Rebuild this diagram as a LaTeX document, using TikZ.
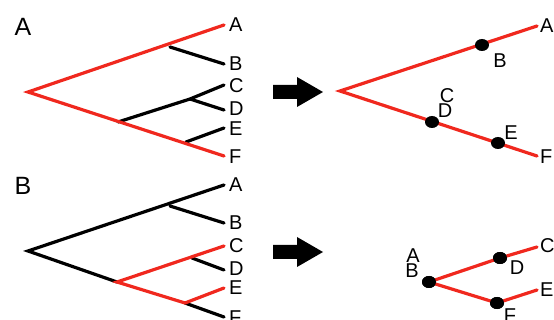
\documentclass[tikz,border=0pt]{standalone}
\usepackage{fontspec}
\setmainfont{Liberation Sans}
\definecolor{branchred}{RGB}{240,40,30}
\tikzset{
  br/.style={line width=3.2pt, line cap=round},
  blk/.style={br, black},
  rd/.style={br, branchred},
  tip/.style={anchor=west, inner sep=0pt, font=\fontsize{20}{20}\selectfont},
  lbl/.style={inner sep=0pt, font=\fontsize{20}{20}\selectfont},
  panel/.style={inner sep=0pt, font=\fontsize{25}{25}\selectfont},
  dot/.style={ellipse, fill=black, minimum width=14pt, minimum height=12pt, inner sep=0pt},
}
\usetikzlibrary{shapes.geometric}
\begin{document}
\begin{tikzpicture}[x=1pt, y=-1pt]
\useasboundingbox (0,0) rectangle (554,320);

% ---------------- panel A, full tree ----------------
\node[panel] (pA) at (23,27) {A};
\coordinate (aR) at (28,92);
\coordinate (aAB) at (170,47);
\coordinate (aCDEF) at (118,122);
\coordinate (aCD) at (190,99);
\coordinate (aEF) at (186,142);
\coordinate (aA) at (224,25);
\coordinate (aB) at (224,64);
\coordinate (aC) at (224,85);
\coordinate (aD) at (224,110);
\coordinate (aE) at (224,128);
\coordinate (aF) at (224,156);
\draw[blk] (aAB) -- (aB);
\draw[blk] (aCDEF) -- (aCD) -- (aC);
\draw[blk] (aCD) -- (aD);
\draw[blk] (aEF) -- (aE);
\draw[rd] (aA) -- (aR) -- (aF);
\node[tip] (laA) at (229,25) {A};
\node[tip] (laB) at (229,64) {B};
\node[tip] (laC) at (229,86) {C};
\node[tip] (laD) at (229,109) {D};
\node[tip] (laE) at (229,129) {E};
\node[tip] (laF) at (229,157) {F};

% ---------------- panel B, full tree ----------------
\node[panel] (pB) at (23,186) {B};
\coordinate (bR) at (28,251);
\coordinate (bAB) at (170,206);
\coordinate (bCDEF) at (117,282);
\coordinate (bCD) at (192,258);
\coordinate (bEF) at (185,303);
\coordinate (bA) at (224,185);
\coordinate (bB) at (224,223);
\coordinate (bC) at (224,246);
\coordinate (bD) at (224,270);
\coordinate (bE) at (224,288);
\coordinate (bF) at (224,317);
\draw[blk] (bA) -- (bR) -- (bCDEF);
\draw[blk] (bAB) -- (bB);
\draw[blk] (bCD) -- (bD);
\draw[blk] (bEF) -- (bF);
\draw[rd] (bC) -- (bCDEF) -- (bEF) -- (bE);
\node[tip] (lbA) at (229,185) {A};
\node[tip] (lbB) at (229,223) {B};
\node[tip] (lbC) at (229,246) {C};
\node[tip] (lbD) at (229,269) {D};
\node[tip] (lbE) at (229,288) {E};
\node[tip] (lbF) at (229,318) {F};

% ---------------- block arrows ----------------
\fill[black] (273,85) -- (297,85) -- (297,77) -- (323,92) -- (297,107) -- (297,99) -- (273,99) -- cycle;
\fill[black] (273,245) -- (297,245) -- (297,237) -- (323,252) -- (297,267) -- (297,259) -- (273,259) -- cycle;

% ---------------- panel A, reduced tree ----------------
\coordinate (cR) at (340,91);
\coordinate (cA) at (537,26);
\coordinate (cF) at (537,156);
\draw[rd] (cA) -- (cR) -- (cF);
\node[dot] (cB) at (482,45) {};
\node[dot] (cCD) at (432,122) {};
\node[dot] (cE) at (498,143) {};
\node[lbl] (lcB) at (500,61) {B};
\node[lbl] (lcC) at (447,96) {C};
\node[lbl] (lcD) at (445,111) {D};
\node[lbl] (lcE) at (511,133) {E};
\node[tip] (lcA) at (540,26) {A};
\node[tip] (lcF) at (540,157) {F};

% ---------------- panel B, reduced tree ----------------
\coordinate (dC) at (537,247);
\coordinate (dE) at (537,290);
\node[dot] (dAB) at (429,282) {};
\node[dot] (dD) at (500,258) {};
\node[dot] (dF) at (497,303) {};
\draw[rd] (dAB) -- (dD) -- (dC);
\draw[rd] (dAB) -- (dF) -- (dE);
\node[dot] at (dAB) {};
\node[dot] at (dD) {};
\node[dot] at (dF) {};
\node[lbl] (ldA) at (413,256) {A};
\node[lbl] (ldB) at (412,271) {B};
\node[lbl] (ldD) at (517,268) {D};
\node[lbl] (ldF) at (510,316) {F};
\node[tip] (ldC) at (540,246) {C};
\node[tip] (ldE) at (540,290) {E};
\end{tikzpicture}
\end{document}
